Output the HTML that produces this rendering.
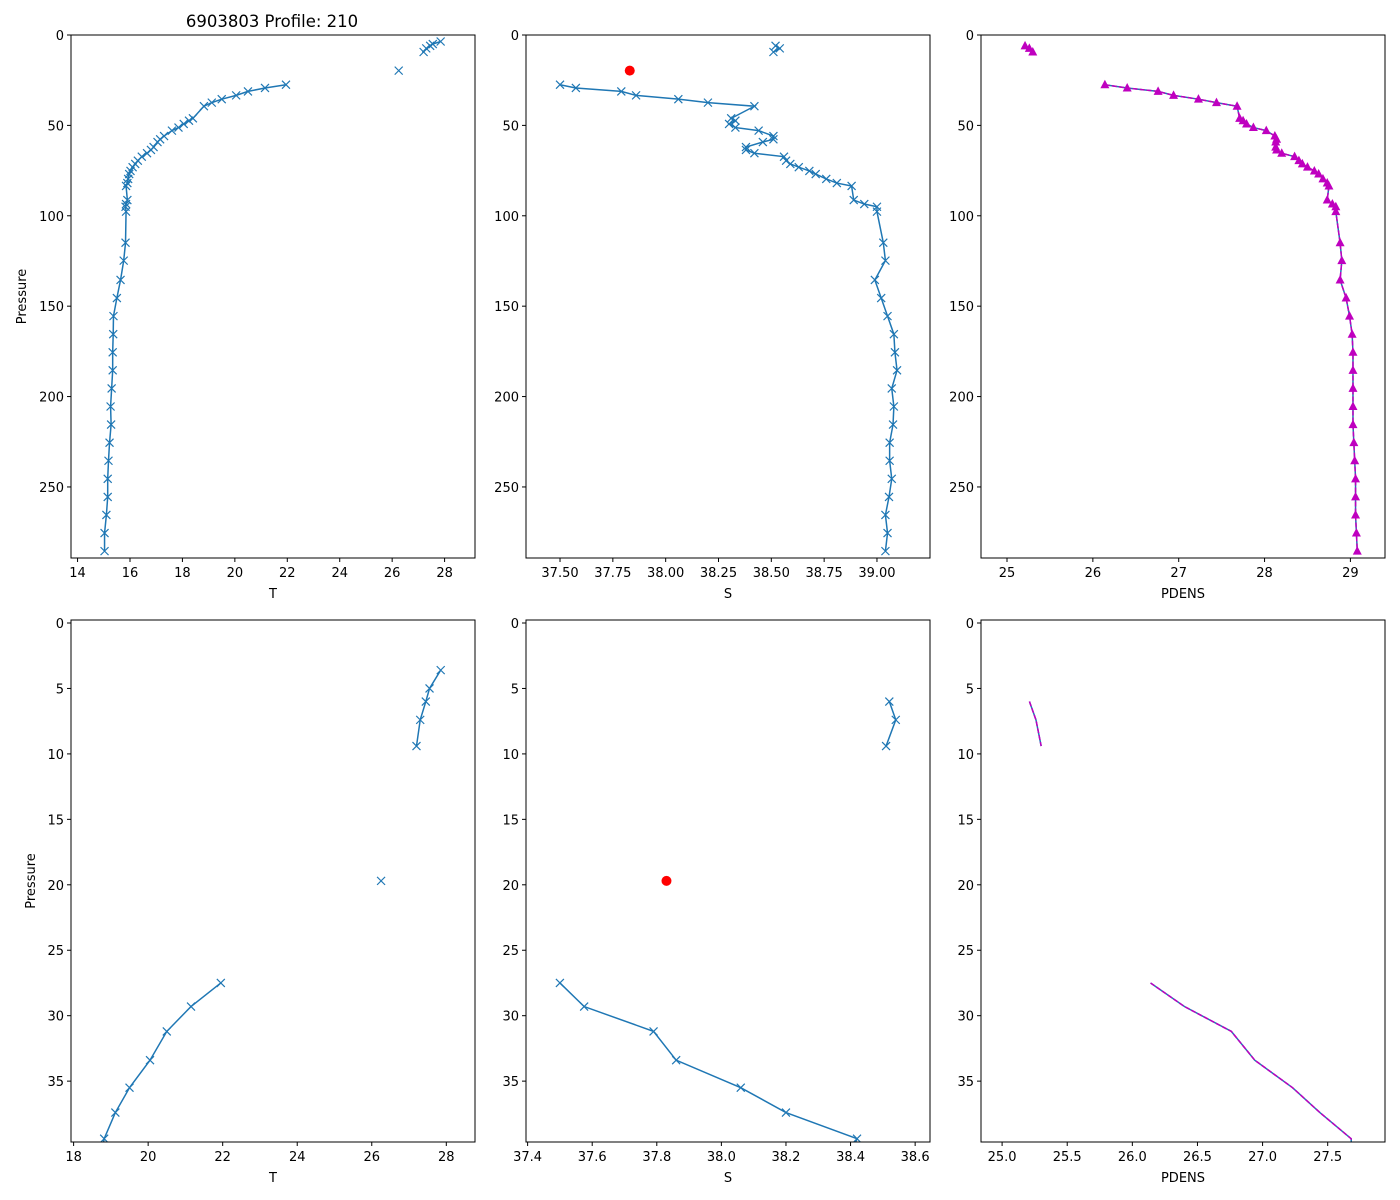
<!DOCTYPE html>
<html><head><meta charset="utf-8"><style>
html,body{margin:0;padding:0;background:#fff;width:1400px;height:1200px;overflow:hidden;}
svg{display:block;}
svg text{font-family:"DejaVu Sans","Liberation Sans",sans-serif;fill:#000;}
</style></head><body>
<svg id="fig" width="1400" height="1200" xmlns="http://www.w3.org/2000/svg">
<rect width="1400" height="1200" fill="#fff"/>
<text x="272" y="27" font-size="16.5" text-anchor="middle">6903803 Profile: 210</text>
</svg>
<script>
const P  = [3.6,5.0,6.0,7.4,9.4,19.7,27.5,29.3,31.2,33.4,35.5,37.4,39.4,46.1,47.4,49.2,51.2,52.9,55.9,57.7,59.2,62.0,63.6,65.4,67.3,69.5,71.3,73.1,75.2,76.9,79.6,81.9,83.5,91.3,93.5,95.0,97.7,114.9,124.8,135.5,145.5,155.5,165.5,175.5,185.5,195.5,205.5,215.5,225.5,235.5,245.5,255.5,265.5,275.5,285.5];
const T  = [27.85,27.55,27.45,27.3,27.2,26.25,21.95,21.15,20.5,20.05,19.5,19.12,18.82,18.4,18.25,18.05,17.85,17.6,17.3,17.15,17.05,16.9,16.8,16.65,16.45,16.3,16.2,16.1,16.02,15.97,15.93,15.9,15.85,15.9,15.85,15.83,15.85,15.83,15.76,15.64,15.5,15.37,15.36,15.34,15.34,15.3,15.26,15.28,15.22,15.18,15.15,15.15,15.1,15.03,15.03];
const S  = [null,null,38.52,38.54,38.51,null,37.5,37.575,37.79,37.86,38.06,38.2,38.42,38.31,38.33,38.3,38.33,38.44,38.51,38.51,38.46,38.38,38.38,38.42,38.56,38.57,38.59,38.63,38.68,38.71,38.76,38.81,38.88,38.89,38.94,39.0,39.0,39.03,39.04,38.99,39.02,39.05,39.08,39.085,39.095,39.07,39.08,39.076,39.06,39.06,39.07,39.057,39.04,39.05,39.04];
const PD = [null,null,25.21,25.26,25.3,null,26.14,26.4,26.76,26.94,27.23,27.44,27.68,27.71,27.75,27.79,27.87,28.02,28.12,28.14,28.13,28.13,28.14,28.2,28.35,28.4,28.44,28.5,28.58,28.63,28.68,28.73,28.75,28.73,28.79,28.83,28.83,28.88,28.9,28.88,28.95,28.99,29.02,29.03,29.03,29.03,29.03,29.03,29.04,29.05,29.06,29.06,29.06,29.07,29.08];
const gapAfter = [4,5];
const flagP = [19.7];
const flagS = [37.83];
const topYTicks = [0,50,100,150,200,250];
const botYTicks = [0,5,10,15,20,25,30,35];
const topTTicks = [14,16,18,20,22,24,26,28];
const topSTicks = [37.5,37.75,38.0,38.25,38.5,38.75,39.0];
const topSLabels = ["37.50","37.75","38.00","38.25","38.50","38.75","39.00"];
const topPDTicks = [25,26,27,28,29];
const botTTicks = [18,20,22,24,26,28];
const botSTicks = [37.4,37.6,37.8,38.0,38.2,38.4,38.6];
const botPDTicks = [25.0,25.5,26.0,26.5,27.0,27.5];

const NS="http://www.w3.org/2000/svg";
const svg=document.getElementById('fig');
const BLUE="#1f77b4", MAG="#bf00bf";
function mk(tag,attrs,parent){const e=document.createElementNS(NS,tag);for(const k in attrs)e.setAttribute(k,attrs[k]);(parent||svg).appendChild(e);return e;}
function scale(d0,d1,r0,r1){return v=>r0+(v-d0)/(d1-d0)*(r1-r0);}

function panel(o){
  const g=mk('g',{});
  
  
  const x=scale(o.xd[0],o.xd[1],o.L,o.R), y=scale(o.yd[0],o.yd[1],o.Tp,o.B);
  const clipId='c'+o.name;
  const cp=mk('clipPath',{id:clipId},g);mk('rect',{x:o.L,y:o.Tp,width:o.R-o.L,height:o.B-o.Tp},cp);
  const plot=mk('g',{'clip-path':'url(#'+clipId+')'},g);
  function segs(vals){const out=[];let cur=[];for(let i=0;i<P.length;i++){if(vals[i]==null){if(cur.length)out.push(cur);cur=[];}else{cur.push([x(vals[i]),y(P[i])]);if(gapAfter.includes(i)){out.push(cur);cur=[];}}}if(cur.length)out.push(cur);return out;}
  const ss=segs(o.vals);
  ss.forEach(s=>{if(s.length>1){const l=mk('polyline',{points:s.map(p=>p.join(',')).join(' '),fill:'none',stroke:BLUE,'stroke-width':1.5},plot);
    
    }});
  if(o.dash){ss.forEach(s=>{if(s.length>1){const l=mk('polyline',{points:s.map(p=>p.join(',')).join(' '),fill:'none',stroke:MAG,'stroke-width':1.5,'stroke-dasharray':'5,2'},plot);
    
    }});}
  if(o.marker==='x'){for(let i=0;i<P.length;i++){if(o.vals[i]==null)continue;const cx=x(o.vals[i]),cy=y(P[i]);
    const m=mk('path',{d:`M${cx-4},${cy-4}L${cx+4},${cy+4}M${cx-4},${cy+4}L${cx+4},${cy-4}`,stroke:BLUE,'stroke-width':1.2,fill:'none'},plot);
    
    }}
  if(o.marker==='tri'){for(let i=0;i<P.length;i++){if(o.vals[i]==null)continue;const cx=x(o.vals[i]),cy=y(P[i]);
    const m=mk('path',{d:`M${cx},${cy-5}L${cx+4.5},${cy+3.5}L${cx-4.5},${cy+3.5}Z`,fill:MAG},plot);
    
    }}
  if(o.flag){for(let i=0;i<flagP.length;i++){const c=mk('circle',{cx:x(flagS[i]),cy:y(flagP[i]),r:5,fill:'red'},plot);
    
    }}
  const fr=mk('rect',{x:o.L,y:o.Tp,width:o.R-o.L,height:o.B-o.Tp,fill:'none',stroke:'#000','stroke-width':1},g);
  
  
  o.xt.forEach((v,i)=>{const px=x(v);mk('line',{x1:px,x2:px,y1:o.B,y2:o.B+4,stroke:'#000'},g);
    const t=mk('text',{x:px,y:o.B+19,'font-size':13,'text-anchor':'middle'},g);t.textContent=o.xl?o.xl[i]:String(v);
    
    });
  o.yt.forEach(v=>{const py=y(v);mk('line',{x1:o.L-4,x2:o.L,y1:py,y2:py,stroke:'#000'},g);
    const t=mk('text',{x:o.L-7,y:py+5,'font-size':13,'text-anchor':'end'},g);t.textContent=String(v);
    
    });
  const xt=mk('text',{x:(o.L+o.R)/2,y:o.B+40,'font-size':13,'text-anchor':'middle'},g);xt.textContent=o.xlabel;
  
  
  if(o.ylabel){const yl=mk('text',{x:0,y:0,'font-size':13,'text-anchor':'middle',transform:`translate(${o.ylx},${(o.Tp+o.B)/2}) rotate(-90)`},g);yl.textContent=o.ylabel;
    
    }
}
const topA={Tp:35,B:558,yd:[0,289.3]}, botA={Tp:620,B:1142,yd:[-0.23,39.65]};
panel({name:'top-temperature-panel',L:71,R:475,...topA,xd:[13.75,29.16],vals:T,marker:'x',xt:topTTicks,yt:topYTicks,xlabel:'T',ylabel:'Pressure',ylx:26});
panel({name:'top-salinity-panel',L:526,R:930,...topA,xd:[37.339,39.251],vals:S,marker:'x',flag:true,xt:topSTicks,xl:topSLabels,yt:topYTicks,xlabel:'S'});
panel({name:'top-pdens-panel',L:981,R:1385,...topA,xd:[24.697,29.403],vals:PD,marker:'tri',dash:true,xt:topPDTicks,yt:topYTicks,xlabel:'PDENS'});
panel({name:'bottom-temperature-panel',L:71,R:475,...botA,xd:[17.93,28.77],vals:T,marker:'x',xt:botTTicks,yt:botYTicks,xlabel:'T',ylabel:'Pressure',ylx:35});
panel({name:'bottom-salinity-panel',L:526,R:930,...botA,xd:[37.395,38.646],vals:S,marker:'x',flag:true,xt:botSTicks,xl:["37.4","37.6","37.8","38.0","38.2","38.4","38.6"],yt:botYTicks,xlabel:'S'});
panel({name:'bottom-pdens-panel',L:981,R:1385,...botA,xd:[24.838,27.94],vals:PD,dash:true,xt:botPDTicks,xl:["25.0","25.5","26.0","26.5","27.0","27.5"],yt:botYTicks,xlabel:'PDENS'});
</script>
</body></html>
